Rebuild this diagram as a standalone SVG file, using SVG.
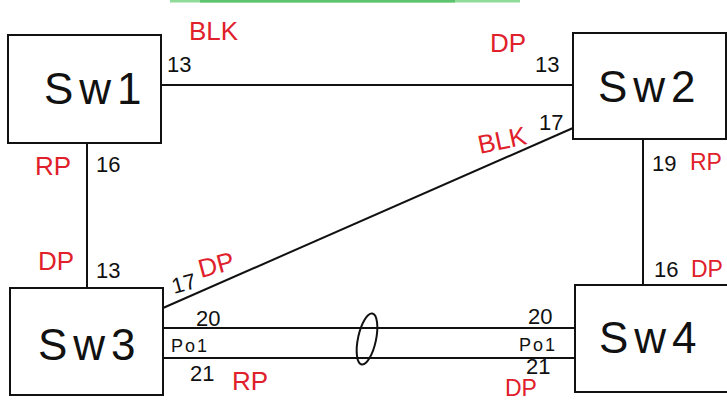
<svg xmlns="http://www.w3.org/2000/svg" width="727" height="402" viewBox="0 0 727 402">
<style>
.box{fill:none;stroke:#111;stroke-width:2}
.ln{fill:none;stroke:#111;stroke-width:2}
.nm{font-family:"Liberation Sans",Arial,sans-serif;font-size:44px;letter-spacing:6px;fill:#111}
.pt{font-family:"Liberation Sans",Arial,sans-serif;font-size:22px;fill:#111}
.po{font-family:"Liberation Sans",Arial,sans-serif;font-size:18px;letter-spacing:2px;fill:#111}
.st{font-family:"Liberation Sans",Arial,sans-serif;font-size:26px;fill:#e0202a}
.sm{font-size:23px}
</style>
<rect x="0" y="0" width="727" height="402" fill="#ffffff"/>
<line x1="170" y1="1" x2="520" y2="1" stroke="#8fdc9a" stroke-width="3"/>
<line x1="200" y1="1" x2="455" y2="1" stroke="#5cc46e" stroke-width="3"/>
<g id="connectors">
<line class="ln" x1="161" y1="85" x2="573" y2="85"/>
<line class="ln" x1="87" y1="143" x2="87" y2="288"/>
<line class="ln" x1="643" y1="139" x2="643" y2="285"/>
<line class="ln" x1="163" y1="308" x2="573" y2="128"/>
<line class="ln" x1="163" y1="328" x2="575" y2="328"/>
<line class="ln" x1="163" y1="358" x2="575" y2="358"/>
<ellipse class="ln" cx="367" cy="339" rx="9" ry="26" transform="rotate(12 367 339)"/>
</g>
<g id="sw1">
<rect class="box" x="8" y="35" width="153" height="108"/>
<text class="nm" x="44" y="104">Sw1</text>
</g>
<g id="sw2">
<rect class="box" x="573" y="33" width="153" height="106"/>
<text class="nm" x="598" y="102">Sw2</text>
</g>
<g id="sw3">
<rect class="box" x="10" y="288" width="153" height="107"/>
<text class="nm" x="38" y="360">Sw3</text>
</g>
<g id="sw4">
<rect class="box" x="575" y="285" width="153" height="107"/>
<text class="nm" x="599" y="353">Sw4</text>
</g>
<g id="labels">
<text class="st" x="189" y="40">BLK</text>
<text class="pt" x="167" y="72">13</text>
<text class="st" x="490" y="52">DP</text>
<text class="pt" x="535" y="72">13</text>
<text class="st" x="480" y="154" transform="rotate(-12 480 154)">BLK</text>
<text class="pt" x="539" y="130">17</text>
<text class="pt" x="652" y="171">19</text>
<text class="st sm" x="690" y="170">RP</text>
<text class="st" x="35" y="175">RP</text>
<text class="pt" x="96" y="172">16</text>
<text class="st" x="38" y="270">DP</text>
<text class="pt" x="96" y="278">13</text>
<text class="pt" x="174" y="294" transform="rotate(-15 174 294)">17</text>
<text class="st" x="201" y="278" transform="rotate(-15 201 278)">DP</text>
<text class="pt" x="196" y="326">20</text>
<text class="po" x="171" y="352">Po1</text>
<text class="pt" x="190" y="381">21</text>
<text class="st" x="232" y="390">RP</text>
<text class="pt" x="528" y="324">20</text>
<text class="po" x="519" y="351">Po1</text>
<text class="pt" x="526" y="374">21</text>
<text class="st sm" x="505" y="396">DP</text>
<text class="pt" x="654" y="277">16</text>
<text class="st sm" x="691" y="277">DP</text>
</g>
</svg>
